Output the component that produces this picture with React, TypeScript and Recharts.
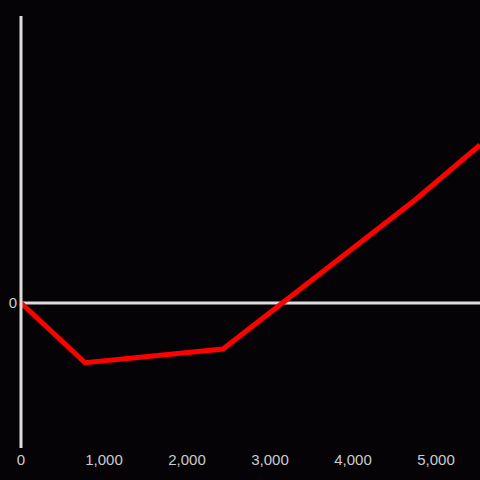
import * as React from "react"
import { LineChart, Line, XAxis, YAxis, ReferenceLine } from "recharts"

// x positions and y values
const xs = [0, 771, 2434, 4747, 5530]
const ys = [0, -597, -460, 1030, 1580]
const xTicks = [0, 1000, 2000, 3000, 4000, 5000]

const data = xs.map((x, i) => ({ x, y: ys[i] }))

const tickFont = { fill: "#cccccc", fontSize: 15, fontFamily: "Liberation Sans, Arial, sans-serif" }

export default function App() {
  return (
    <div style={{ position: "absolute", left: 0, top: 0, width: 480, height: 480, background: "#050305" }}>
      <LineChart width={480} height={480} data={data} margin={{ top: 16, right: 0, bottom: 0, left: 0 }}>
        <XAxis
          dataKey="x"
          type="number"
          domain={[0, 5530]}
          ticks={xTicks}
          tickFormatter={(v: number) => v.toLocaleString("en-US")}
          axisLine={false}
          tickLine={false}
          tickSize={4}
          tickMargin={2}
          height={32}
          tick={tickFont}
        />
        <YAxis
          type="number"
          domain={[-1450, 2870]}
          ticks={[0]}
          width={21}
          axisLine={{ stroke: "#dddddd", strokeWidth: 3 }}
          tickLine={false}
          tickSize={2}
          tickMargin={2}
          tick={tickFont}
        />
        <ReferenceLine y={0} stroke="#dddddd" strokeWidth={3} />
        <Line
          type="linear"
          dataKey="y"
          stroke="#ff0000"
          strokeWidth={5}
          dot={false}
          isAnimationActive={false}
        />
      </LineChart>
    </div>
  )
}
